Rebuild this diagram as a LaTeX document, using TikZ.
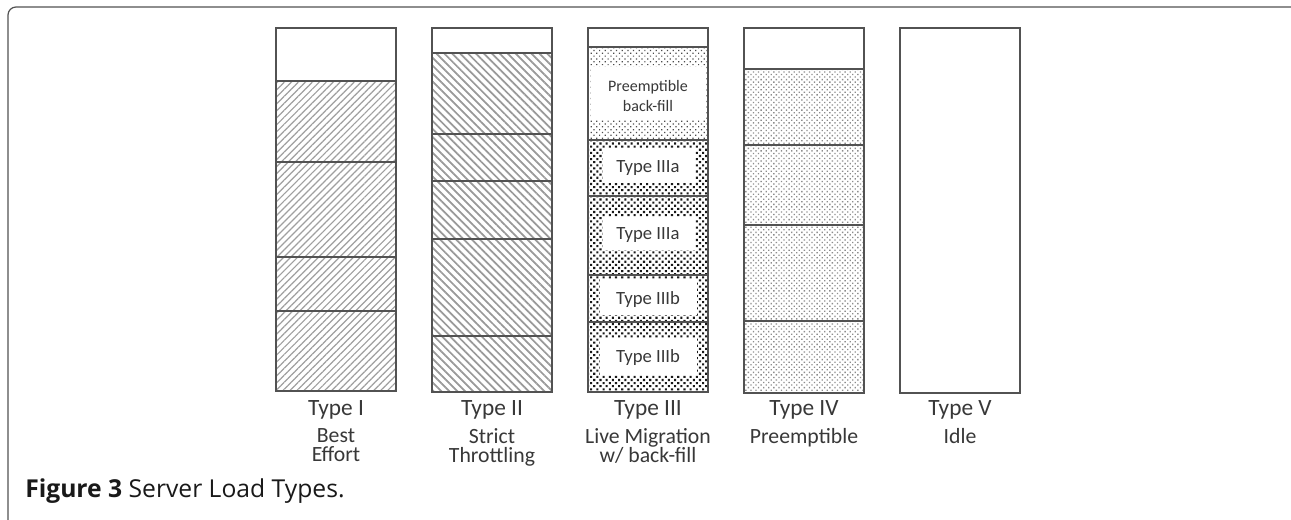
\documentclass[tikz,border=0pt]{standalone}
\usepackage{fontspec}
\setmainfont{Carlito}
\newfontfamily\capfont{Open Sans}
\usetikzlibrary{patterns.meta}
\definecolor{ink}{gray}{0.22}
\definecolor{edge}{gray}{0.32}
\tikzset{
  colbox/.style={draw=edge, line width=0.9pt},
  divider/.style={edge, line width=0.9pt},
  hatchA/.style={pattern={Lines[angle=45,distance=3.7pt,line width=0.9pt]}, pattern color=gray!75},
  hatchB/.style={pattern={Lines[angle=-45,distance=4.2pt,line width=1.3pt]}, pattern color=gray!80},
  dotsdense/.style={pattern={Dots[radius=1.1pt,distance=3.3pt,angle=45]}, pattern color=black!90},
  dotslight/.style={pattern={Dots[radius=0.65pt,distance=3pt,angle=45]}, pattern color=black!70},
  dotsgray/.style={pattern={Dots[radius=0.7pt,distance=2.7pt,angle=45]}, pattern color=gray!90},
  mainlbl/.style={anchor=base, inner sep=0pt, text=ink, font=\fontsize{17.5}{20}\selectfont},
  sublbl/.style={anchor=north, inner sep=0pt, text=ink, align=center, font=\fontsize{16.3}{14.5}\selectfont},
  innerlbl/.style={inner sep=0pt, text=ink, font=\fontsize{14}{17}\selectfont},
  whitebox/.style={fill=white, draw=none},
}
\begin{document}
\begin{tikzpicture}[x=0.75pt,y=-0.75pt]
\useasboundingbox (0,0) rectangle (1291,520);
\fill[white] (0,0) rectangle (1291,520);
% frame
\draw[edge, line width=0.9pt, rounded corners=6pt] (8,521) -- (8,7) -- (1292,7);

% ---------- Type I ----------
\fill[hatchA] (276,81) rectangle (396,391);
\draw[colbox] (276,28) rectangle (396,391);
\foreach \yy in {81,162,257,311} \draw[divider] (276,\yy) -- (396,\yy);

% ---------- Type II ----------
\fill[hatchB] (432,53) rectangle (552,392);
\draw[colbox] (432,28) rectangle (552,392);
\foreach \yy in {53,134,181,239,336} \draw[divider] (432,\yy) -- (552,\yy);

% ---------- Type III ----------
\fill[dotslight] (588,47) rectangle (708,140);
\fill[dotsdense] (588,140) rectangle (708,392);
\fill[whitebox] (591,67) rectangle (705,120);
\fill[whitebox] (603,148) rectangle (695,183);
\fill[whitebox] (603,217) rectangle (695,250);
\fill[whitebox] (600,279) rectangle (697,315);
\fill[whitebox] (600,338) rectangle (697,375);
\draw[colbox] (588,28) rectangle (708,392);
\foreach \yy in {47,140,196,275,322} \draw[divider] (588,\yy) -- (708,\yy);
\draw[divider, line width=1.3pt] (588,140) -- (708,140);
\node[innerlbl, align=center, font=\fontsize{12}{14.5}\selectfont] (pbf) at (648,96) {Preemptible\\back-fill};
\node[innerlbl] (a1) at (648,168) {Type IIIa};
\node[innerlbl] (a2) at (648,235) {Type IIIa};
\node[innerlbl] (b1) at (648,300) {Type IIIb};
\node[innerlbl] (b2) at (648,358) {Type IIIb};

% ---------- Type IV ----------
\fill[dotsgray] (744,69) rectangle (864,393);
\draw[colbox] (744,28) rectangle (864,393);
\foreach \yy in {69,145,225,321} \draw[divider] (744,\yy) -- (864,\yy);

% ---------- Type V ----------
\draw[colbox] (900,28) rectangle (1020,393);

% ---------- labels ----------
\node[mainlbl] (l1) at (336,415) {Type I};
\node[sublbl] (s1) at (336,428) {Best\\Effort};
\node[mainlbl] (l2) at (492,415) {Type II};
\node[sublbl] (s2) at (492,428) {Strict\\Throttling};
\node[mainlbl] (l3) at (648,415) {Type III};
\node[sublbl] (s3) at (648,428) {Live Migration\\w/ back-fill};
\node[mainlbl] (l4) at (804,415) {Type IV};
\node[sublbl] (s4) at (804,428) {Preemptible};
\node[mainlbl] (l5) at (960,415) {Type V};
\node[sublbl] (s5) at (960,428) {Idle};

% caption
\node[anchor=base west, inner sep=0pt, text=black!90] (cap) at (25,497)
  {\capfont\fontsize{18.5}{21}\selectfont\bfseries Figure 3 \mdseries Server Load Types.};
\end{tikzpicture}
\end{document}
